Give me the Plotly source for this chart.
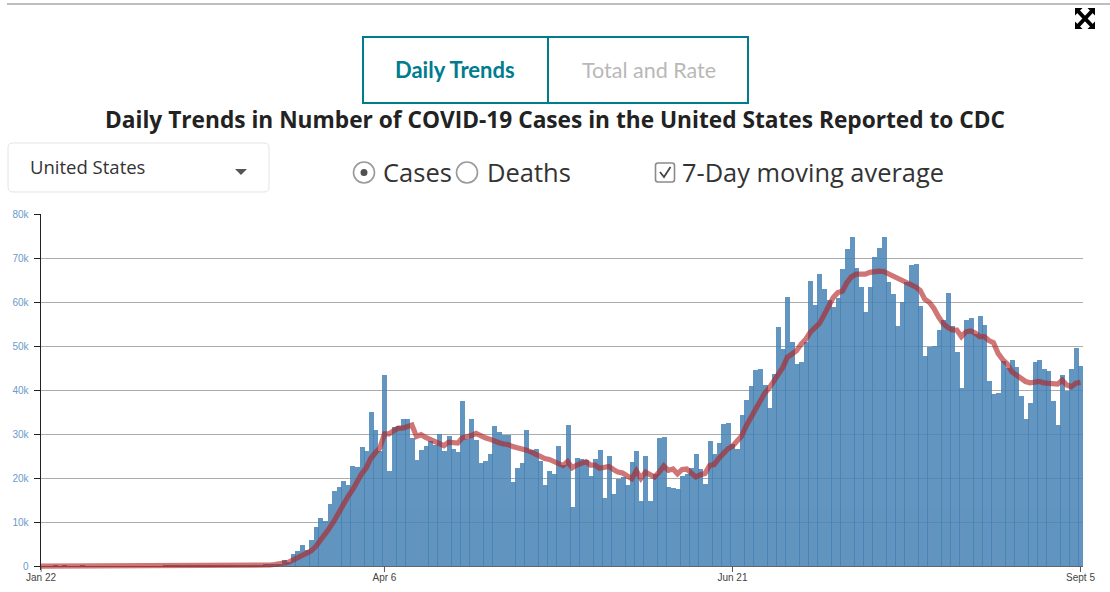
import plotly.graph_objects as go

W, H = 1110, 592

# ---- data -----------------------------------------------------------------
day_labels = ["Jan 22", "Apr 6", "Jun 21", "Sept 5"]
day_label_index = [0, 75, 151, 227]
y_tick_values = [0, 10000, 20000, 30000, 40000, 50000, 60000, 70000, 80000]
y_tick_labels = ["0", "10k", "20k", "30k", "40k", "50k", "60k", "70k", "80k"]

early_cases = [0, 0, 0, 5, 0, 2, 0, 0, 1, 3, 1, 0, 0, 0, 0, 0, 1, 0, 0, 0, 0, 0, 0, 0, 0, 0, 0, 20,
               5, 10, 5, 10, 10, 10, 15, 15, 25, 30, 25, 30, 40, 50, 60, 70, 90, 110, 130, 170, 210,
               270, 350, 420, 560]
cases = [1400, 900, 2800, 3500, 4800, 3700, 6000, 8900, 11000, 10300, 14200, 17100, 18000, 19400,
         18300, 22800, 22600, 27100, 26200, 35100, 30800, 26200, 43500, 21700, 31700, 31900, 33300,
         33500, 29200, 24200, 26400, 27300, 28300, 27600, 30100, 26200, 29600, 26700, 26000, 37400,
         28900, 33300, 28700, 23500, 23900, 25500, 31900, 30500, 29800, 29800, 19200, 22300, 23500,
         31000, 26400, 26700, 23900, 18300, 21700, 21000, 27300, 23000, 32100, 13500, 24600, 24400,
         24200, 20500, 24400, 26400, 15500, 25100, 16400, 19800, 20200, 18300, 23700, 26200, 14800,
         25100, 14800, 20800, 29200, 29400, 18000, 17800, 17600, 20500, 20800, 22300, 25500, 22100,
         18700, 28500, 25500, 28000, 32300, 32600, 27800, 26700, 34400, 37800, 40800, 44600, 44800,
         41200, 36000, 43700, 54400, 49400, 61200, 51000, 46000, 46400, 50800, 64800, 59400, 66400,
         63000, 60500, 58900, 61000, 67600, 72100, 74800, 67800, 63300, 57800, 63300, 70300, 72300,
         74800, 64600, 61900, 54600, 60100, 64600, 68300, 68700, 59200, 47800, 49800, 50000, 53700,
         56000, 62100, 54600, 48700, 40500, 55800, 56400, 52800, 56900, 54800, 42100, 39200, 39400,
         46700, 45100, 46900, 45300, 38700, 33300, 37100, 46400, 46900, 44800, 44400, 37600, 32100,
         43300, 39800, 44800, 49600, 45500]
daily_cases = early_cases + cases

early_avg = [20, 20, 20, 20, 20, 20, 20, 20, 20, 20, 20, 20, 20, 20, 20, 20, 20, 20, 20, 20, 20, 20,
             20, 20, 20, 20, 20, 20, 20, 20, 20, 20, 20, 20, 20, 20, 20, 20, 20, 25, 30, 35, 45, 55,
             65, 80, 100, 120, 150, 200]
avg = [300, 400, 500, 700, 900, 1400, 1900, 2400, 3000, 3500, 4500, 5800, 7000, 8700, 10300, 12300,
       14300, 15800, 17300, 19400, 21000, 22300, 24500, 25800, 26900, 30100, 30100, 30800, 31400,
       31400, 31700, 32100, 29500, 29900, 29300, 28900, 28300, 27800, 27400, 28200, 28200, 28000,
       29200, 29400, 29700, 30200, 29600, 29200, 28900, 28400, 28100, 27800, 27700, 27200, 27000,
       26700, 26400, 26000, 25500, 24700, 24500, 24300, 23900, 23300, 22900, 23800, 22400, 23000,
       23500, 23800, 23000, 23000, 22300, 22400, 22700, 22000, 21400, 21200, 20500, 19900, 21700,
       20000, 21400, 20700, 20300, 21400, 22800, 21800, 22100, 21000, 22000, 22100, 21000, 20300,
       20800, 21100, 22900, 23100, 24500, 25800, 26700, 27300, 28500, 29600, 31900, 33700, 35500,
       37400, 39300, 40500, 42000, 43800, 45200, 47500, 48200, 49000, 50500, 51600, 53200, 54400,
       55200, 57100, 59200, 61100, 62200, 62500, 64500, 65800, 66400, 66400, 66400, 66800, 67000,
       67100, 67000, 66500, 66100, 65800, 65200, 64800, 64200, 63500, 62700, 60700, 60000, 58600,
       56700, 55200, 54300, 53700, 53700, 52200, 53300, 53500, 53000, 52200, 52200, 51300, 50800,
       48400, 47000, 46000, 44200, 43400, 42700, 42000, 41700, 41800, 42000, 41700, 41600, 41400,
       41400, 42300, 41200, 40800, 41600, 41800]
moving_average = early_avg + avg
days = list(range(len(daily_cases)))

# ---- helpers: page pixels to paper coordinates ------------------------------
px = lambda x: x / W
py = lambda y: 1 - y / H

TEAL = "#007c8f"
shapes, annos = [], []


def text(x, y, s, size, color, family="Open Sans", anchor="left", bold=False):
    annos.append(dict(x=px(x), y=py(y), xref="paper", yref="paper", text=f"<b>{s}</b>" if bold else s,
                      showarrow=False, xanchor=anchor, yanchor="middle", borderpad=0,
                      font=dict(size=size, color=color, family=family)))


def rect(x0, y0, x1, y1, color, width=1, fill="rgba(0,0,0,0)"):
    shapes.append(dict(type="rect", xref="paper", yref="paper", x0=px(x0), x1=px(x1), y0=py(y0), y1=py(y1),
                       line=dict(color=color, width=width), fillcolor=fill))


def path(d, color="rgba(0,0,0,0)", width=1, fill="rgba(0,0,0,0)"):
    out, pts = [], d.split()
    i = 0
    while i < len(pts):
        t = pts[i]
        if t in "MLQC":
            out.append(t)
            i += 1
        elif t == "Z":
            out.append("Z")
            i += 1
        else:
            out.append(f"{px(float(pts[i])):.5f},{py(float(pts[i + 1])):.5f}")
            i += 2
    shapes.append(dict(type="path", xref="paper", yref="paper", path=" ".join(out),
                       line=dict(color=color, width=width), fillcolor=fill))


def circle(cx, cy, r, color, width=1, fill="rgba(0,0,0,0)"):
    shapes.append(dict(type="circle", xref="paper", yref="paper", x0=px(cx - r), x1=px(cx + r),
                       y0=py(cy + r), y1=py(cy - r), line=dict(color=color, width=width), fillcolor=fill))


# top rule
shapes.append(dict(type="line", xref="paper", yref="paper", x0=px(7), x1=1, y0=py(4), y1=py(4),
                   line=dict(color="#a8a8a8", width=1.5)))
# tabs
rect(363, 37, 548, 103, TEAL, 2)
rect(548, 37, 748, 103, TEAL, 2)
text(455, 70, "Daily Trends", 22, TEAL, "Lato", "center", True)
text(648.5, 70, "Total and Rate", 21.5, "#b8b8b8", "Lato", "center")
# title
text(555, 119.5, "Daily Trends in Number of COVID-19 Cases in the United States Reported to CDC",
     22.7, "#222222", "Open Sans", "center", True)
# dropdown
path("M 13 143 L 264 143 Q 269 143 269 148 L 269 187 Q 269 192 264 192 L 13 192 Q 8 192 8 187 L 8 148 Q 8 143 13 143 Z",
     "#e4e4e4", 1)
text(28.5, 167, "United States", 18.5, "#333333")
path("M 235 169 L 247 169 L 241 175 Z", fill="#555555")
# radios
circle(364, 172.5, 10.5, "#9a9a9a", 1.6)
circle(364, 172.5, 3.5, "#505050", 0, "#505050")
text(382, 172.5, "Cases", 25.5, "#333333")
circle(467, 172.5, 10.5, "#9a9a9a", 1.6)
text(485.5, 172.5, "Deaths", 25.5, "#333333")
# checkbox
path("M 658 163 L 672 163 Q 674.5 163 674.5 165.5 L 674.5 179.5 Q 674.5 182 672 182 L 658 182 Q 655.5 182 655.5 179.5 L 655.5 165.5 Q 655.5 163 658 163 Z",
     "#8a8a8a", 1.6)
path("M 660 172 L 664 177 L 670.5 167", "#444444", 1.8)
text(680.5, 172.5, "7-Day moving average", 25.4, "#333333")
# expand icon: four corner heads joined by a cross
for d in ["M 1075 8 L 1082.5 8 L 1075 15.5 Z", "M 1095 8 L 1087.5 8 L 1095 15.5 Z",
          "M 1075 29 L 1082.5 29 L 1075 21.5 Z", "M 1095 29 L 1087.5 29 L 1095 21.5 Z"]:
    path(d, fill="#000000")
path("M 1077 10 L 1093 27", "#000000", 4)
path("M 1093 10 L 1077 27", "#000000", 4)

# x ticks run from the zero level down, below the axis
for t in day_label_index:
    shapes.append(dict(type="line", xref="x", yref="paper", x0=t, x1=t, y0=py(566.3), y1=py(572),
                       line=dict(color="#555555", width=1)))

fig = go.Figure()
fig.add_trace(go.Bar(x=days, y=daily_cases, width=1.087,
                     marker=dict(color="steelblue", opacity=0.85, line=dict(width=0)), hoverinfo="skip"))
fig.add_trace(go.Scatter(x=days, y=moving_average, mode="lines", opacity=0.62,
                         line=dict(color="firebrick", width=5.2), hoverinfo="skip"))

fig.update_layout(width=W, height=H, margin=dict(l=0, r=0, t=0, b=0, pad=0, autoexpand=False), paper_bgcolor="white",
                  plot_bgcolor="white", showlegend=False, bargap=0, barmode="overlay",
                  shapes=shapes, annotations=annos,
                  xaxis=dict(domain=[px(40.5), px(1083)], range=[-0.11, 227.55], tickmode="array", automargin=False,
                             tickvals=day_label_index, ticktext=day_labels, showgrid=False, zeroline=False,
                             showline=False, ticks="",
                             tickfont=dict(family="Liberation Sans", size=10, color="#444444")),
                  yaxis=dict(domain=[py(569.82), py(214.3)], range=[-800, 80000], tickmode="array", automargin=False,
                             tickvals=y_tick_values, ticktext=y_tick_labels, showgrid=True, gridcolor="#ababab",
                             gridwidth=1, zeroline=True, zerolinecolor="#666666", zerolinewidth=1,
                             showline=True, linecolor="#222222", linewidth=1,
                             ticks="outside", ticklen=6, tickcolor="#222222", ticklabelstandoff=3,
                             tickfont=dict(family="Liberation Sans", size=10, color="#6a9bcb")))

fig.write_html("out.html", config={"displayModeBar": False},
               post_script="document.body.style.margin='0';document.documentElement.style.overflow='hidden';")
